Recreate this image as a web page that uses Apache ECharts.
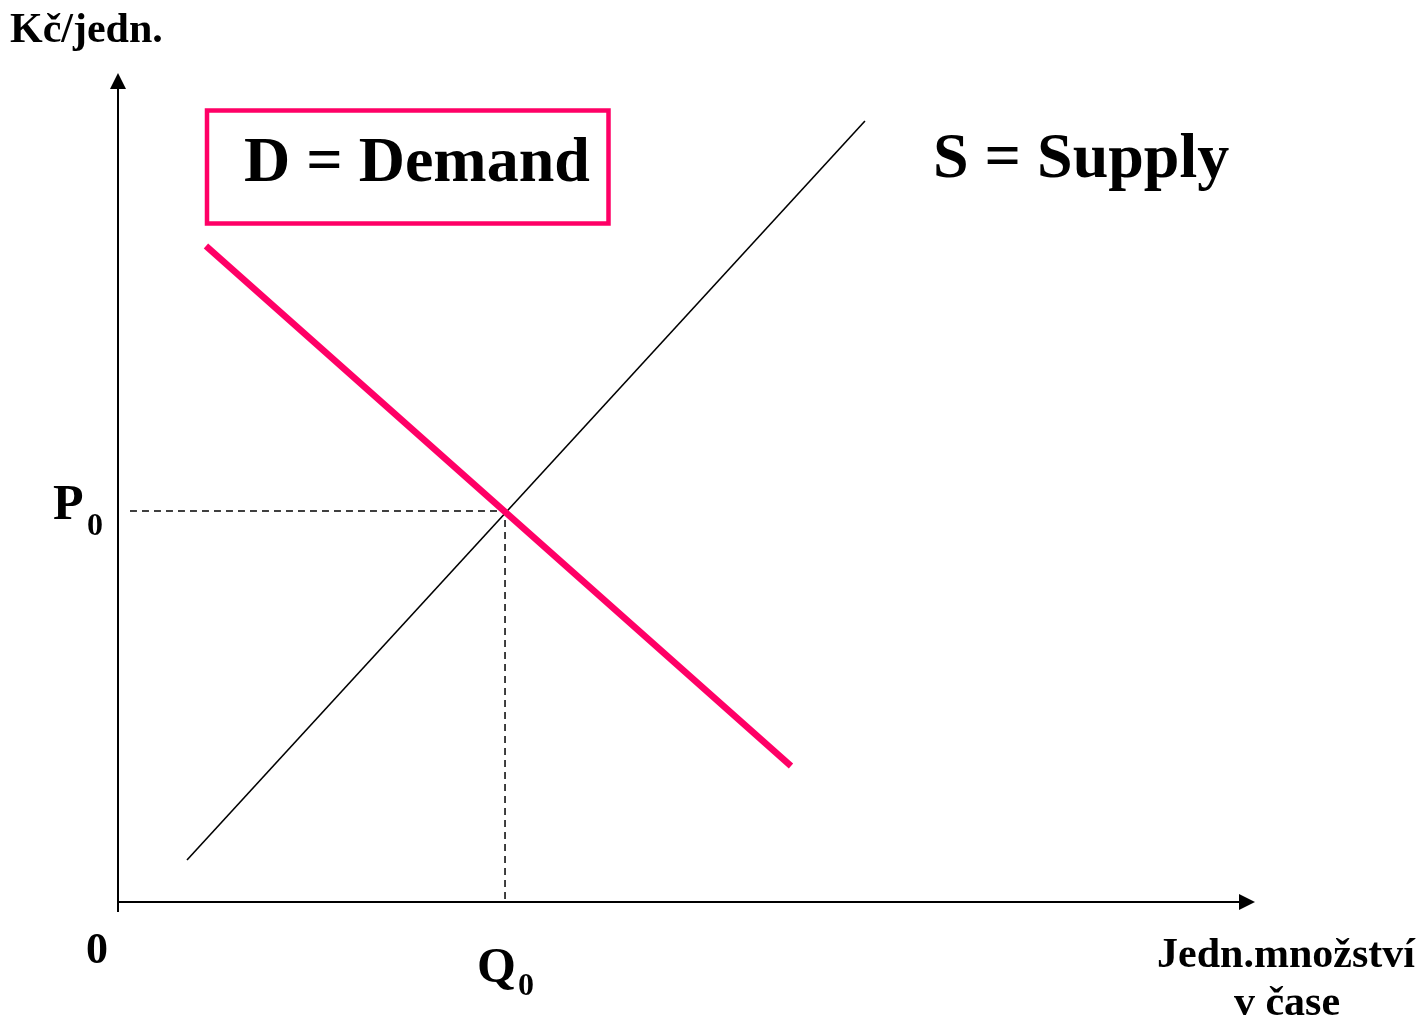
<!DOCTYPE html>
<html>
<head>
<meta charset="utf-8">
<script src="https://cdn.jsdelivr.net/npm/echarts@6/dist/echarts.min.js"></script>
<style>html,body{margin:0;padding:0;background:#fff}#c{width:1423px;height:1021px}</style>
</head>
<body>
<div id="c"></div>
<script>
// Data (abstract units on 0..100 axes)
const supplyData = [[6.11, 5.12], [66.16, 95.13]];
const demandData = [[7.79, 79.9], [59.61, 16.57]];
const equilibrium = [34.28, 47.62];
const guideStartX = 1.06;
const labels = {
  yTitle: 'Kč/jedn.',
  xTitle1: 'Jedn.množství',
  xTitle2: 'v čase',
  origin: '0',
  demand: 'D = Demand',
  supply: 'S = Supply'
};

const PINK = '#ff0066';
const F = '"Liberation Serif", "Times New Roman", serif';
const guideData = [[guideStartX, equilibrium[1]], equilibrium, [equilibrium[0], 0]];

function txt(text, x, y, size, align) {
  return { type: 'text', x: x, y: y, z: 10,
    style: { text: text, font: 'bold ' + size + 'px ' + F, fill: '#000',
      textAlign: align || 'left', verticalAlign: 'middle' } };
}

const chart = echarts.init(document.getElementById('c'), null, { renderer: 'canvas' });
chart.setOption({
  animation: false,
  backgroundColor: '#fff',
  grid: { left: 118, right: 176, top: 81, bottom: 119 },
  xAxis: {
    type: 'value', min: 0, max: 100,
    splitLine: { show: false },
    axisLabel: { show: false },
    axisTick: { show: true, customValues: [0], length: 10, lineStyle: { color: '#000', width: 2 } },
    axisLine: { show: true, onZero: false, symbol: ['none', 'triangle'], symbolSize: [16, 16],
      lineStyle: { color: '#000', width: 2 } }
  },
  yAxis: {
    type: 'value', min: 0, max: 100,
    splitLine: { show: false },
    axisLabel: { show: false },
    axisTick: { show: false },
    axisLine: { show: true, onZero: false, symbol: ['none', 'triangle'], symbolSize: [16, 16],
      lineStyle: { color: '#000', width: 2 } }
  },
  series: [
    { type: 'line', name: 'guide', data: guideData, symbol: 'none', silent: true,
      lineStyle: { color: '#000', width: 1.5, type: [7, 5] } },
    { type: 'line', name: 'S', data: supplyData, symbol: 'none',
      lineStyle: { color: '#000', width: 1.6 } },
    { type: 'line', name: 'D', data: demandData, symbol: 'none',
      lineStyle: { color: PINK, width: 6.5, cap: 'butt' } }
  ],
  graphic: [
    txt(labels.yTitle, 10, 31, 42),
    txt('P', 53, 506, 50),
    txt('0', 95, 527, 32, 'center'),
    txt(labels.origin, 97, 952, 44, 'center'),
    txt('Q', 477, 969, 50),
    txt('0', 526, 987, 32, 'center'),
    txt(labels.xTitle1, 1286, 956, 42, 'center'),
    txt(labels.xTitle2, 1287, 1004, 42, 'center'),
    txt(labels.demand, 244, 164, 64),
    txt(labels.supply, 933, 160, 64),
    { type: 'rect', shape: { x: 207, y: 110.5, width: 401.5, height: 113 },
      style: { fill: 'none', stroke: PINK, lineWidth: 4.5 }, z: 10 }
  ]
});
</script>
</body>
</html>
